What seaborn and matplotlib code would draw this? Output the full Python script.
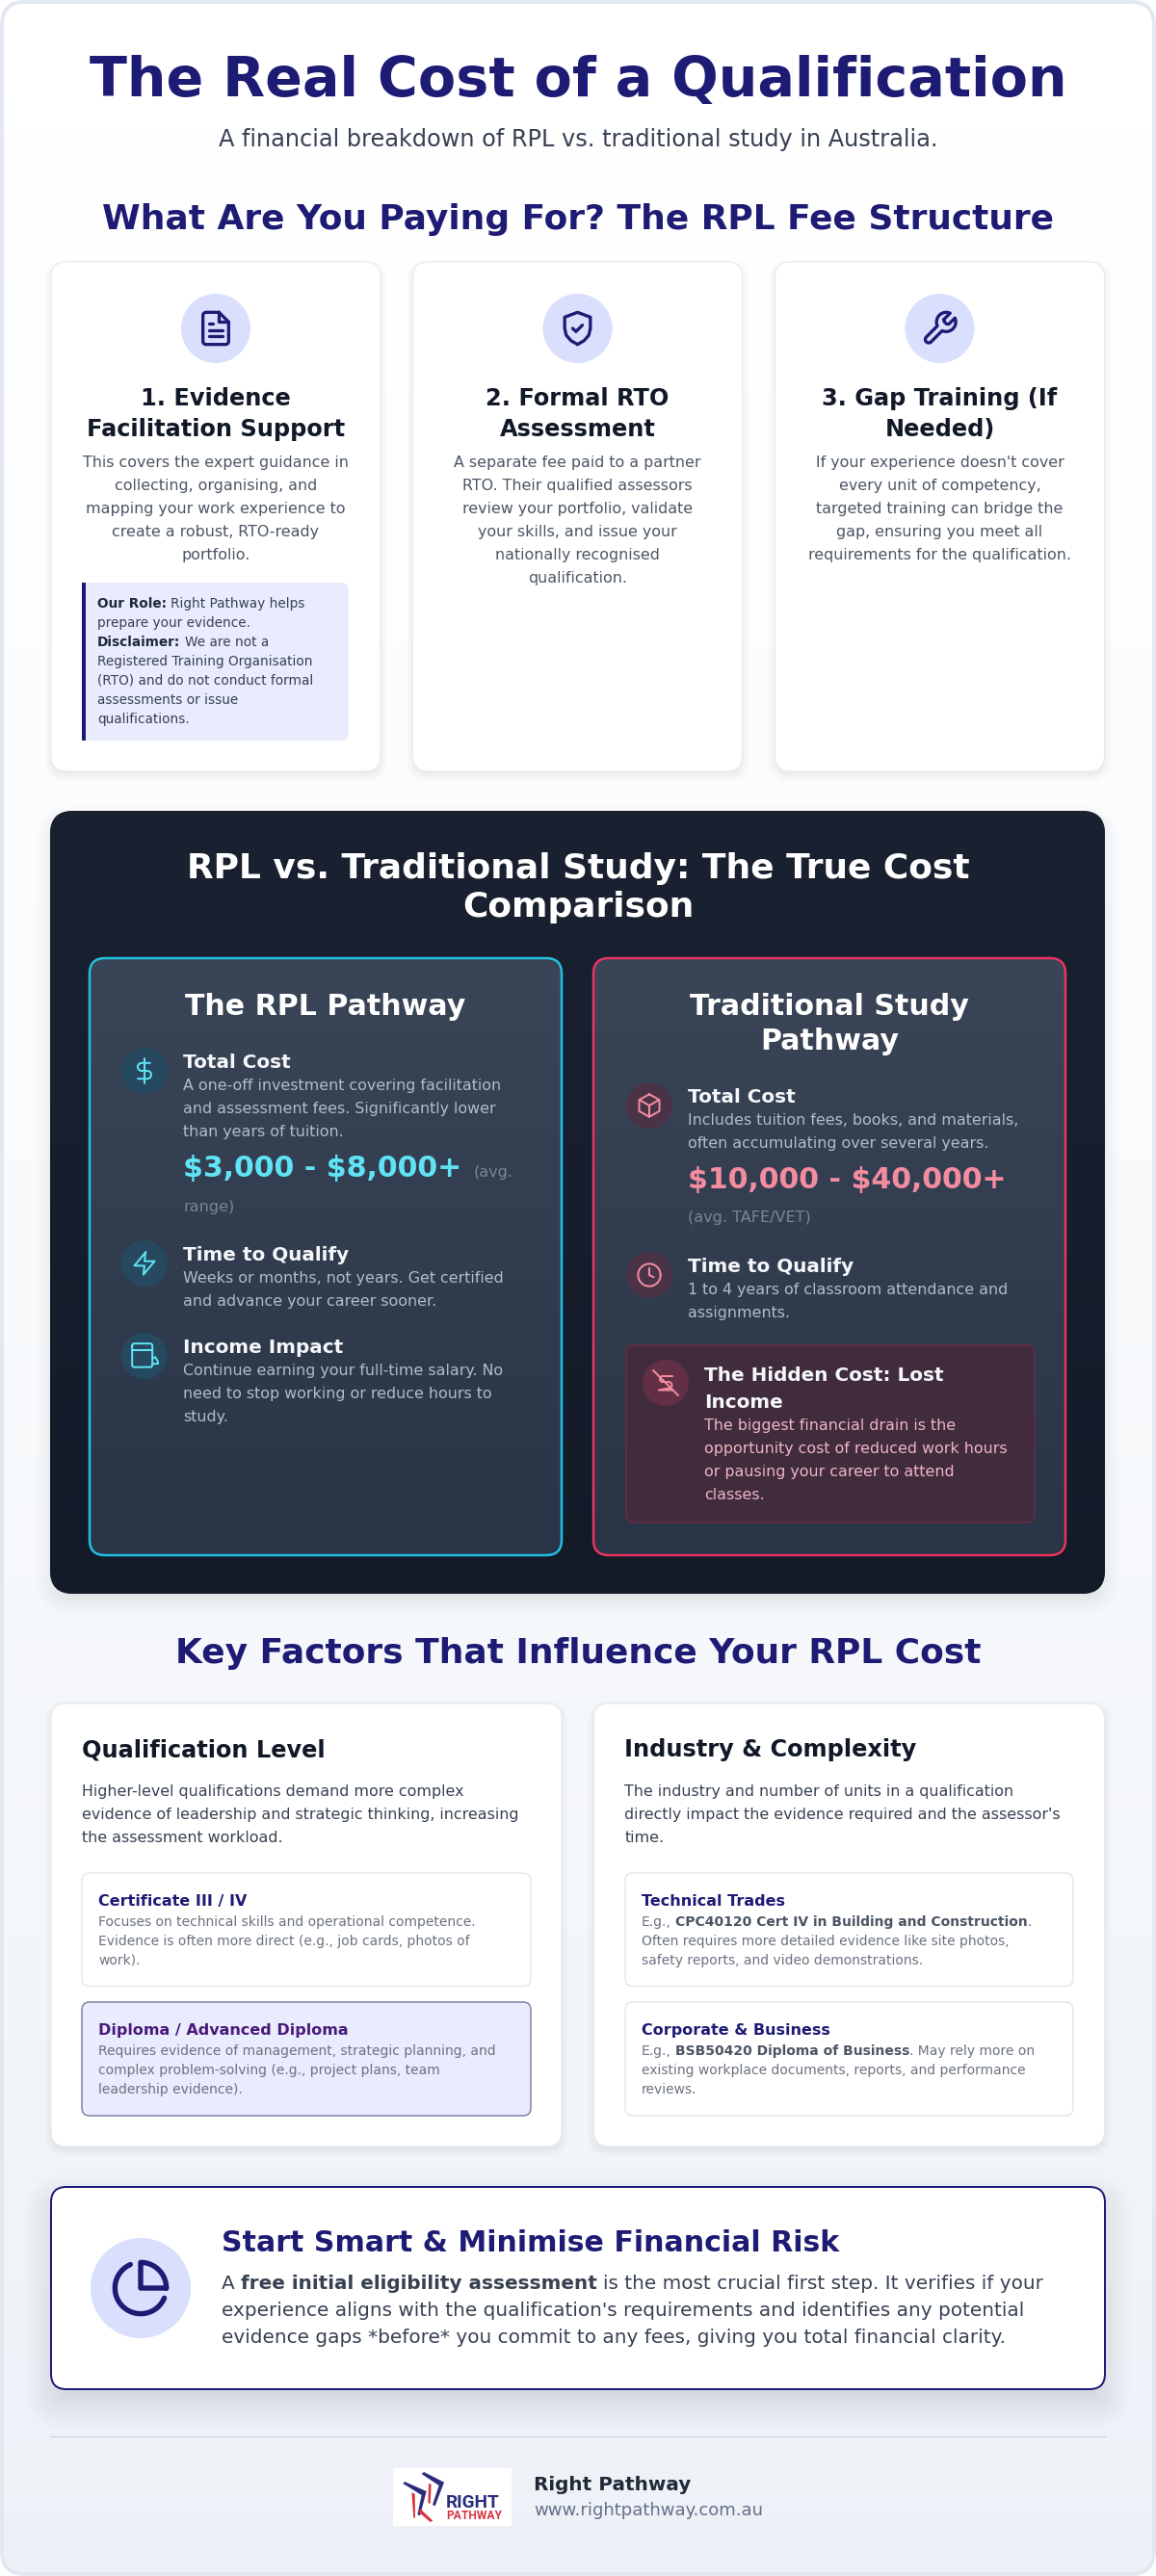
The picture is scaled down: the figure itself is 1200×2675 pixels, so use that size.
import numpy as np
import seaborn as sns
import matplotlib
matplotlib.use("Agg")
import matplotlib.pyplot as plt
from matplotlib.patches import FancyBboxPatch, Circle, Polygon, Rectangle

# ---- text content ----
TITLE = "The Real Cost of a Qualification"
SUBTITLE = "A financial breakdown of RPL vs. traditional study in Australia."
FEE_HEADING = "What Are You Paying For? The RPL Fee Structure"
FEE_TITLES = [["1. Evidence", "Facilitation Support"], ["2. Formal RTO", "Assessment"], ["3. Gap Training (If", "Needed)"]]
FEE_BODIES = [
    ["This covers the expert guidance in", "collecting, organising, and", "mapping your work experience to", "create a robust, RTO-ready", "portfolio."],
    ["A separate fee paid to a partner", "RTO. Their qualified assessors", "review your portfolio, validate", "your skills, and issue your", "nationally recognised", "qualification."],
    ["If your experience doesn't cover", "every unit of competency,", "targeted training can bridge the", "gap, ensuring you meet all", "requirements for the qualification."],
]
NOTE_LINES = [
    [("Our Role:", "bold"), ("Right Pathway helps", "normal")],
    [("prepare your evidence.", "normal")],
    [("Disclaimer:", "bold"), ("We are not a", "normal")],
    [("Registered Training Organisation", "normal")],
    [("(RTO) and do not conduct formal", "normal")],
    [("assessments or issue", "normal")],
    [("qualifications.", "normal")],
]
COMPARE_HEADING = ["RPL vs. Traditional Study: The True Cost", "Comparison"]
RPL_TITLE = ["The RPL Pathway"]
TRAD_TITLE = ["Traditional Study", "Pathway"]
RPL_COST_BODY = ["A one-off investment covering facilitation", "and assessment fees. Significantly lower", "than years of tuition."]
RPL_RANGE = "$3,000 - $8,000+"
RPL_RANGE_NOTE = ["(avg.", "range)"]
RPL_TIME_BODY = ["Weeks or months, not years. Get certified", "and advance your career sooner."]
RPL_INCOME_BODY = ["Continue earning your full-time salary. No", "need to stop working or reduce hours to", "study."]
TRAD_COST_BODY = ["Includes tuition fees, books, and materials,", "often accumulating over several years."]
TRAD_RANGE = "$10,000 - $40,000+"
TRAD_RANGE_NOTE = "(avg. TAFE/VET)"
TRAD_TIME_BODY = ["1 to 4 years of classroom attendance and", "assignments."]
HIDDEN_TITLE = ["The Hidden Cost: Lost", "Income"]
HIDDEN_BODY = ["The biggest financial drain is the", "opportunity cost of reduced work hours", "or pausing your career to attend", "classes."]
FACTOR_HEADING = "Key Factors That Influence Your RPL Cost"
FACTOR_TITLES = ["Qualification Level", "Industry & Complexity"]
FACTOR_BODIES = [
    ["Higher-level qualifications demand more complex", "evidence of leadership and strategic thinking, increasing", "the assessment workload."],
    ["The industry and number of units in a qualification", "directly impact the evidence required and the assessor's", "time."],
]
CERT_TITLE = "Certificate III / IV"
CERT_LINES = ["Focuses on technical skills and operational competence.", "Evidence is often more direct (e.g., job cards, photos of", "work)."]
DIPLOMA_TITLE = "Diploma / Advanced Diploma"
DIPLOMA_LINES = ["Requires evidence of management, strategic planning, and", "complex problem-solving (e.g., project plans, team", "leadership evidence)."]
TRADES_TITLE = "Technical Trades"
TRADES_LINES = [
    [("E.g.,", "normal"), ("CPC40120 Cert IV in Building and Construction", "bold"), (".", "tight")],
    [("Often requires more detailed evidence like site photos,", "normal")],
    [("safety reports, and video demonstrations.", "normal")],
]
CORP_TITLE = "Corporate & Business"
CORP_LINES = [
    [("E.g.,", "normal"), ("BSB50420 Diploma of Business", "bold"), (". May rely more on", "tight")],
    [("existing workplace documents, reports, and performance", "normal")],
    [("reviews.", "normal")],
]
CTA_TITLE = "Start Smart & Minimise Financial Risk"
CTA_LINES = [
    [("A", "normal"), ("free initial eligibility assessment", "bold"), ("is the most crucial first step. It verifies if your", "normal")],
    [("experience aligns with the qualification's requirements and identifies any potential", "normal")],
    [("evidence gaps *before* you commit to any fees, giving you total financial clarity.", "normal")],
]
BRAND = "Right Pathway"
BRAND_URL = "www.rightpathway.com.au"

NAVY = "#1e1b74"
LAVENDER = "#d9dffc"
PALE = "#e9ecfd"
CYAN = "#5fe3f5"
PINK = "#f48ca0"

sns.set_theme(style="white")
plt.rcParams["font.family"] = ["DejaVu Sans"]

fig = plt.figure(figsize=(12, 26.75), dpi=100, facecolor="#edf1f6")

# page background, a vertical gradient
bg_ax = fig.add_axes([0, 0, 1, 1])
page_cmap = sns.blend_palette(["#ffffff", "#f8fafc", "#edf1f7"], as_cmap=True)
sns.heatmap(np.linspace(0, 1, 256).reshape(-1, 1), cmap=page_cmap, cbar=False, xticklabels=False,
            yticklabels=False, ax=bg_ax)

ax = fig.add_axes([0, 0, 1, 1])
ax.set_xlim(0, 1200)
ax.set_ylim(2675, 0)
ax.axis("off")
ax.patch.set_alpha(0)
ax.set_autoscale_on(False)
renderer = fig.canvas.get_renderer()


def rbox(x0, y0, x1, y1, r, fc="white", ec="none", lw=0, alpha=None):
    p = FancyBboxPatch((x0, y0), x1 - x0, y1 - y0, boxstyle=f"round,pad=0,rounding_size={r}",
                       fc=fc, ec=ec, lw=lw * 0.72, alpha=alpha)
    ax.add_patch(p)
    return p


def shadow(x0, y0, x1, y1, r, dy, blur, alpha, color="#1f2937", n=12):
    # soft css like shadow made of stacked boxes
    for i in range(n):
        e = blur * (1 - 2 * i / (n - 1))
        if r + e < 1:
            e = 1 - r
        rbox(x0 - e, y0 - e + dy, x1 + e, y1 + e + dy, r + e, fc=color, alpha=alpha / n)


def gradient_box(x0, y0, x1, y1, r, colors, ec="none", lw=0):
    clip = rbox(x0, y0, x1, y1, r, fc=colors[0])
    cmap = sns.blend_palette(colors, as_cmap=True)
    im = ax.imshow(np.linspace(0, 1, 256).reshape(-1, 1), cmap=cmap, extent=(x0, x1, y1, y0), aspect="auto", zorder=1)
    im.set_clip_path(clip)
    if lw:
        rbox(x0, y0, x1, y1, r, fc="none", ec=ec, lw=lw)


def text(x, y, s, px, color, weight="normal", ha="left"):
    # y is the visual middle of the line, dollars are plain text here
    return ax.text(x, y + 0.34 * px, s, fontsize=px * 0.72, color=color, fontweight=weight, ha=ha, va="baseline",
                   parse_math=False)


def lines(x, ys, strs, px, color, weight="normal", ha="left"):
    for y, s in zip(ys, strs):
        text(x, y, s, px, color, weight, ha)


def runs(x, y, parts, px, colors):
    # inline bold and normal words on one line
    cur = x
    for i, (s, kind) in enumerate(parts):
        weight = "bold" if kind == "bold" else "normal"
        if i > 0 and kind != "tight":
            cur += 0.32 * px
        t = text(cur, y, s, px, colors[weight], weight)
        cur = t.get_window_extent(renderer).x1


def arc(cx, cy, r, a0, a1, n=14):
    a = np.radians(np.linspace(a0, a1, n))
    return list(zip(cx + r * np.cos(a), cy + r * np.sin(a)))


def icon(cx, cy, size, strokes, color, lw):
    s = size / 24
    for st in strokes:
        pts = np.array(st, dtype=float)
        ax.plot(cx + (pts[:, 0] - 12) * s, cy + (pts[:, 1] - 12) * s, color=color, lw=lw * 0.72,
                solid_capstyle="round", solid_joinstyle="round")


ICON_FILE = [
    [(14, 2), (6, 2)] + arc(6, 4, 2, -90, -180) + arc(6, 20, 2, 180, 90) + arc(18, 20, 2, 90, 0) + [(20, 8), (14, 2)],
    [(14, 2), (14, 8), (20, 8)], [(16, 13), (8, 13)], [(16, 17), (8, 17)], [(10, 9), (8, 9)],
]
ICON_SHIELD = [
    [(12, 22), (16, 19.7), (19, 16.3), (20, 12), (20, 5), (12, 2), (4, 5), (4, 12), (5, 16.3), (8, 19.7), (12, 22)],
    [(9, 12), (11, 14), (15, 10)],
]
ICON_WRENCH = [
    [(14.7, 6.3), (14.7, 7.7), (16.3, 9.3), (17.7, 9.3), (21.47, 5.53)] + arc(16, 8, 6, -24.3, 114.3)
    + [(6.62, 20.38)] + arc(5.12, 18.88, 2.12, 45, 225) + [(10.53, 10.47)] + arc(16, 8, 6, 155.7, 294.3) + [(14.7, 6.3)],
]
ICON_DOLLAR = [
    [(12, 1), (12, 23)],
    [(17, 5), (9.5, 5)] + arc(9.5, 8.5, 3.5, -90, -270) + arc(14.5, 15.5, 3.5, -90, 90) + [(6, 19)],
]
ICON_ZAP = [[(13, 2), (3, 14), (12, 14), (11, 22), (21, 10), (12, 10), (13, 2)]]
ICON_WALLET = [
    arc(3, 3, 2, 180, 270) + arc(17, 3, 2, -90, 0) + arc(17, 20, 2, 0, 90) + arc(3, 20, 2, 90, 180) + [(1, 3)],
    [(1, 7), (19, 7)], [(19, 19), (24, 19), (24, 17), (21.5, 13), (19, 14.5)],
]
ICON_BOX = [
    [(12, 2), (21, 7), (21, 17), (12, 22), (3, 17), (3, 7), (12, 2)],
    [(3.3, 7), (12, 12), (20.7, 7)], [(12, 22), (12, 12)],
]
ICON_CLOCK = [arc(12, 12, 10, 0, 360, 40), [(12, 6), (12, 12), (16, 14)]]
ICON_NO_DOLLAR = [
    [(-1, -1), (25, 25)],
    [(19, 5), (9, 5)] + arc(9, 8, 3, -90, -270) + arc(15, 14.5, 3.5, -90, 50) + [(5, 19.5), (19, 19.5)],
]
ICON_PIE = [arc(12, 12, 10, 22.9, 246.4, 40), arc(12, 12, 10, 0, -90) + [(12, 12), (22, 12)]]

# ---- header ----
text(600, 81, TITLE, 57.2, NAVY, "bold", "center")
text(600, 144, SUBTITLE, 24, "#374151", ha="center")
text(600, 226, FEE_HEADING, 36, NAVY, "bold", "center")

# ---- fee cards ----
card_x = [53, 428.5, 804.5]
fee_icons = [ICON_FILE, ICON_SHIELD, ICON_WRENCH]
for i, x0 in enumerate(card_x):
    cx = x0 + 171
    shadow(x0, 272, x0 + 342, 801, 16, 4, 7, 0.10)
    rbox(x0, 272, x0 + 342, 801, 16, fc="white", ec="#e5e7eb", lw=1)
    ax.add_patch(Circle((cx, 341), 36, fc=LAVENDER, ec="none"))
    icon(cx, 341, 40, fee_icons[i], NAVY, 3.3)
    lines(cx, [413, 444.5], FEE_TITLES[i], 24, "#111827", "bold", "center")
    lines(cx, [480 + 24 * k for k in range(len(FEE_BODIES[i]))], FEE_BODIES[i], 15.9, "#4b5563", ha="center")

# note box under first card
rbox(85, 605, 362, 769, 8, fc=PALE)
ax.add_patch(Rectangle((85, 605), 4, 164, fc=NAVY, ec="none"))
note_colors = {"bold": "#1f2937", "normal": "#374151"}
for k, parts in enumerate(NOTE_LINES):
    runs(101, 626 + 20 * k, parts, 13.6, note_colors)

# ---- dark comparison panel ----
shadow(52, 842, 1147, 1655, 24, 8, 14, 0.10)
gradient_box(52, 842, 1147, 1655, 24, ["#1a2232", "#131a28"])
lines(600, [900, 940], COMPARE_HEADING, 36, "white", "bold", "center")

gradient_box(93, 995, 583, 1615, 16, ["#3a4558", "#293447"], ec="#22c0e0", lw=2.5)
gradient_box(616, 995, 1106, 1615, 16, ["#3a4558", "#293447"], ec="#e8345f", lw=2.5)

BODY = "#b4bccb"
MUTED = "#7a8598"
HEAD = "#f5f7fa"
CYAN_DISC = "#27495f"
PINK_DISC = "#4a3347"

# RPL column
lines(338, [1044], RPL_TITLE, 30, "white", "bold", "center")
for cy, ic in zip([1112, 1312, 1408], [ICON_DOLLAR, ICON_ZAP, ICON_WALLET]):
    ax.add_patch(Circle((150, cy), 24, fc=CYAN_DISC, ec="none"))
    icon(150, cy, 28, ic, CYAN, 2)
text(190, 1102, "Total Cost", 20, HEAD, "bold")
lines(190, [1127, 1151, 1175], RPL_COST_BODY, 15.9, BODY)
text(190, 1212, RPL_RANGE, 30, CYAN, "bold")
text(492, 1217, RPL_RANGE_NOTE[0], 16, MUTED)
text(190, 1253, RPL_RANGE_NOTE[1], 16, MUTED)
text(190, 1302, "Time to Qualify", 20, HEAD, "bold")
lines(190, [1327, 1351], RPL_TIME_BODY, 15.9, BODY)
text(190, 1398, "Income Impact", 20, HEAD, "bold")
lines(190, [1423, 1447, 1471], RPL_INCOME_BODY, 15.9, BODY)

# traditional column
lines(861, [1044, 1080], TRAD_TITLE, 30, "white", "bold", "center")
for cy, ic in zip([1148, 1324], [ICON_BOX, ICON_CLOCK]):
    ax.add_patch(Circle((674, cy), 24, fc=PINK_DISC, ec="none"))
    icon(674, cy, 28, ic, PINK, 2)
text(714, 1138, "Total Cost", 20, HEAD, "bold")
lines(714, [1163, 1187], TRAD_COST_BODY, 15.9, BODY)
text(714, 1224, TRAD_RANGE, 30, PINK, "bold")
text(714, 1264, TRAD_RANGE_NOTE, 16, MUTED)
text(714, 1314, "Time to Qualify", 20, HEAD, "bold")
lines(714, [1339, 1363], TRAD_TIME_BODY, 15.9, BODY)

rbox(650, 1397, 1074, 1581, 8, fc="#402c3c", ec="#6b2b44", lw=1.5)
ax.add_patch(Circle((691, 1436), 24, fc="#622f45", ec="none"))
icon(691, 1436, 24, ICON_NO_DOLLAR, PINK, 2)
lines(731, [1427, 1455], HIDDEN_TITLE, 20, HEAD, "bold")
lines(731, [1480, 1504, 1528, 1552], HIDDEN_BODY, 15.9, "#f0b6c6")

# ---- key factors ----
text(600, 1715, FACTOR_HEADING, 36, NAVY, "bold", "center")
for x0, title, body in zip([53, 616.5], FACTOR_TITLES, FACTOR_BODIES):
    shadow(x0, 1769, x0 + 530, 2229, 16, 4, 7, 0.10)
    rbox(x0, 1769, x0 + 530, 2229, 16, fc="white", ec="#e5e7eb", lw=1)
    text(x0 + 32, 1816, title, 24, "#111827", "bold")
    lines(x0 + 32, [1860, 1884, 1908], body, 15.9, "#374151")

small_colors = {"bold": "#4b5563", "normal": "#6b7280"}
rbox(85, 1945, 551, 2062.5, 8, fc="white", ec="#e5e7eb", lw=1.5)
text(102, 1973.5, CERT_TITLE, 16, NAVY, "bold")
lines(102, [1995, 2015, 2035], CERT_LINES, 13.9, "#6b7280")
rbox(85, 2079, 551, 2197, 8, fc=PALE, ec="#8080a8", lw=1.5)
text(102, 2107.5, DIPLOMA_TITLE, 16, "#4a1a7a", "bold")
lines(102, [2129, 2149, 2169], DIPLOMA_LINES, 13.9, "#6b7280")

rbox(649, 1945, 1114, 2062.5, 8, fc="white", ec="#e5e7eb", lw=1.5)
text(665.5, 1973.5, TRADES_TITLE, 16, NAVY, "bold")
for y, parts in zip([1995, 2015, 2035], TRADES_LINES):
    runs(665.5, y, parts, 13.9, small_colors)
rbox(649, 2079, 1114, 2197, 8, fc="white", ec="#e5e7eb", lw=1.5)
text(665.5, 2107.5, CORP_TITLE, 16, NAVY, "bold")
for y, parts in zip([2129, 2149, 2169], CORP_LINES):
    runs(665.5, y, parts, 13.9, small_colors)

# ---- call to action ----
shadow(53, 2271, 1147, 2481, 16, 14, 26, 0.14)
rbox(53, 2271, 1147, 2481, 16, fc="white", ec=NAVY, lw=2)
ax.add_patch(Circle((146, 2376), 52, fc=LAVENDER, ec="none"))
icon(146, 2376, 64, ICON_PIE, NAVY, 5.4)
text(230, 2328, CTA_TITLE, 30, NAVY, "bold")
cta_colors = {"bold": "#374151", "normal": "#374151"}
for y, parts in zip([2370, 2398, 2426], CTA_LINES):
    runs(230, y, parts, 20, cta_colors)

# ---- footer ----
ax.plot([52, 1148], [2530, 2530], color="#cbd5e0", lw=1)
ax.add_patch(Rectangle((408, 2563), 123, 60, fc="white", ec="none"))


def logo_poly(pts, color):
    xy = [(400 + a / 3, 2555 + b / 3) for a, b in pts]
    ax.add_patch(Polygon(xy, closed=True, fc=color, ec="none"))


logo_poly([(55, 72), (60, 66), (128, 96), (108, 172), (100, 168), (113, 108)], "#2a2d7c")
logo_poly([(113, 42), (120, 36), (183, 68), (155, 142), (147, 138), (167, 78)], "#2a2d7c")
logo_poly([(82, 100), (92, 104), (93, 178), (88, 180)], "#d8343f")
logo_poly([(135, 72), (143, 75), (140, 135), (133, 132)], "#d8343f")
logo_poly([(108, 150), (148, 188), (140, 192), (103, 160)], "#d8343f")
ax.text(463, 2604, "RIGHT", fontsize=19 * 0.72, color="#2a2d7c", fontweight="bold", family="Roboto", va="baseline")
ax.text(463, 2616.5, "PATHWAY", fontsize=12 * 0.72, color="#d8343f", fontweight="bold", family="Roboto", va="baseline")
text(554, 2579, BRAND, 20, "#1f2937", "bold")
text(554, 2606, BRAND_URL, 18, "#64708a")

# rounded frame of the page
frame = rbox(2, 2, 1198, 2673, 24, fc="none", ec="#e2e8f0", lw=4)
bg_ax.collections[0].set_clip_path(frame.get_path(), frame.get_transform())

fig.savefig("out.png", dpi=100, facecolor=fig.get_facecolor())
